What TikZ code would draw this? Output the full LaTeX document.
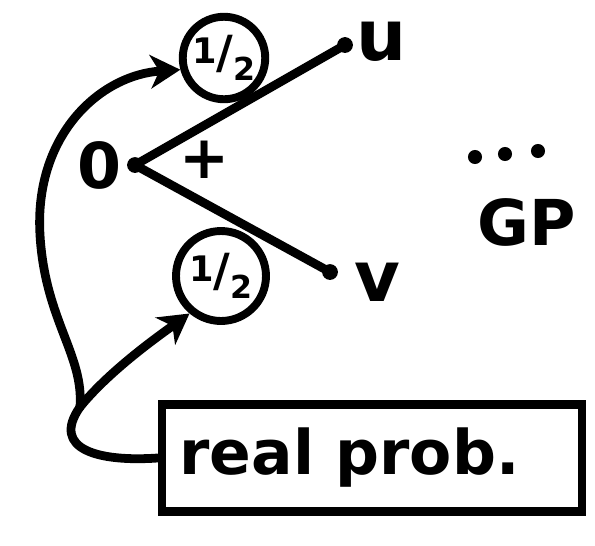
\documentclass[tikz,border=0pt]{standalone}
\usepackage{fontspec}
\setmainfont{DejaVu Sans}
\usepackage{tikz}
\usetikzlibrary{arrows.meta}

\begin{document}
\begin{tikzpicture}[
    x=0.02cm, y=-0.02cm,
    every node/.style={
        font=\bfseries,
        align=center
    },
    stroke/.style={
        line width=5pt,
        line cap=round,
        line join=round
    },
    arrow/.style={
        stroke,
        -{Stealth[length=17pt, width=19pt, inset=5pt]}
    },
    dot/.style={
        circle,
        fill=black,
        inner sep=0pt,
        minimum size=9pt
    },
    half/.style={
        circle,
        draw,
        line width=4.5pt,
        inner sep=0pt,
        minimum size=1.65cm
    },
    label/.style={
        inner sep=0pt,
        font=\bfseries\fontsize{40}{40}\selectfont
    },
    probbox/.style={
        rectangle,
        draw,
        line width=5pt,
        minimum width=8.4cm,
        minimum height=2.14cm,
        font=\bfseries\fontsize{35}{36}\selectfont
    }
]
\useasboundingbox (0,0) rectangle (595,545);

% the two outcomes
\node[dot] (o) at (135,165) {};
\node[dot] (u) at (345,45) {};
\node[dot] (v) at (330,272) {};
\node[label, font=\bfseries\fontsize{36}{36}\selectfont] (zero) at (100,165) {0};
\node[label] (ulbl) at (382,42) {u};
\node[label] (vlbl) at (377,282) {v};
\node[label, font=\bfseries\fontsize{34}{34}\selectfont] (plus) at (205,160) {+};

\node[half] (ptop) at (224,58) {\raisebox{0.3em}{\fontsize{20}{20}\selectfont 1}\fontsize{26}{26}\selectfont/\raisebox{-0.25em}{\fontsize{18}{18}\selectfont 2}};
\node[half, minimum size=1.8cm] (pbot) at (221,276) {\raisebox{0.3em}{\fontsize{20}{20}\selectfont 1}\fontsize{26}{26}\selectfont/\raisebox{-0.25em}{\fontsize{18}{18}\selectfont 2}};

\draw[stroke] (o.center) -- (u.center);
\draw[stroke] (o.center) -- (v.center);

% and so on
\foreach \px/\py in {475/157, 505/154, 538/151}
    \fill (\px,\py) circle (4pt);
\node[label, font=\bfseries\fontsize{36}{36}\selectfont] (gp) at (527,222) {GP};

% probabilities
\node[probbox] (real) at (372,458) {real prob.\hspace*{0.9cm}};
\coordinate (fork) at (80,407);

\draw[stroke] (real.west) .. controls (100,462) and (50,450) .. (fork);
\draw[arrow] (fork) .. controls (84,355) and (45,320) .. (40,235)
    .. controls (34,135) and (100,75) .. (ptop.195);
\draw[arrow] (fork) .. controls (110,370) and (160,335) .. (pbot.230);

\end{tikzpicture}
\end{document}
